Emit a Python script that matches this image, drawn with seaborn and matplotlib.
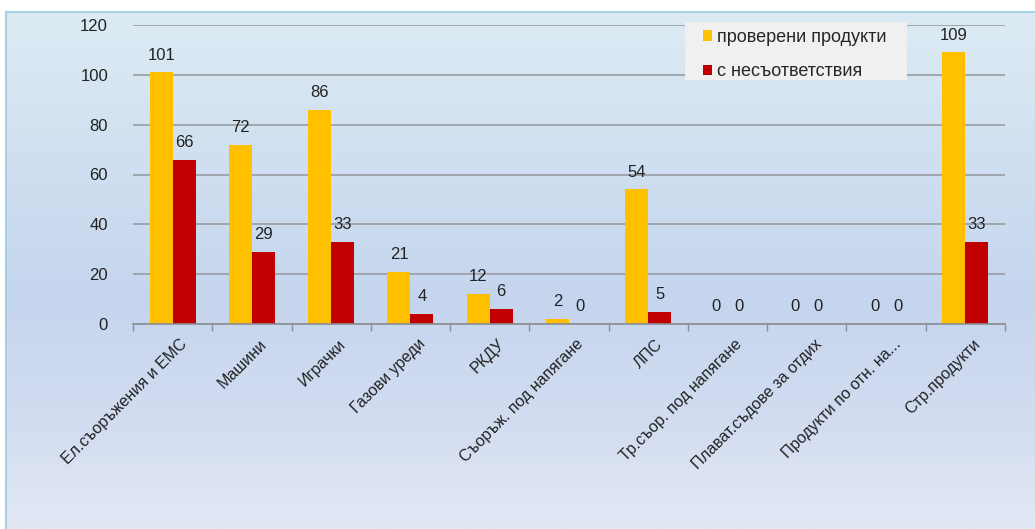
import numpy as np
import pandas as pd
import matplotlib
matplotlib.use("Agg")
import matplotlib.pyplot as plt
import matplotlib.transforms as mtransforms
from matplotlib.patches import Rectangle
from matplotlib.colors import LinearSegmentedColormap
import seaborn as sns

categories = ["Ел.съоръжения и ЕМС", "Машини", "Играчки", "Газови уреди", "РКДУ",
              "Съоръж. под напягане", "ЛПС", "Тр.съор. под напягане",
              "Плават.съдове за отдих", "Продукти по отн. на...", "Стр.продукти"]
checked = [101, 72, 86, 21, 12, 2, 54, 0, 0, 0, 109]
nonconf = [66, 29, 33, 4, 6, 0, 5, 0, 0, 0, 33]
series_names = ["проверени продукти", "с несъответствия"]
yticks = [0, 20, 40, 60, 80, 100, 120]

df = pd.DataFrame({
    "cat": categories * 2,
    "val": checked + nonconf,
    "series": [series_names[0]] * len(categories) + [series_names[1]] * len(categories),
})

sns.set_theme(style="white")
plt.rcParams["font.family"] = ["Liberation Sans", "DejaVu Sans"]

W, H = 1035, 529
FS = 12
fig = plt.figure(figsize=(W / 100, H / 100), dpi=100)
fig.patch.set_facecolor("white")

# background gradient panel
bg = fig.add_axes([6 / W, 0, 1 - 6 / W, (H - 12) / H])
cmap = LinearSegmentedColormap.from_list(
    "bg", [(0.0, "#dcebf3"), (0.55, "#c5d5ee"), (0.8, "#d3ddf1"), (1.0, "#e2e8f4")])
grad = np.linspace(0, 1, 256).reshape(-1, 1)
bg.imshow(grad, aspect="auto", cmap=cmap, extent=[0, 1, 0, 1], origin="upper")
bg.set_xlim(0, 1); bg.set_ylim(0, 1)
bg.set_xticks([]); bg.set_yticks([])
for s in ["top", "left"]:
    bg.spines[s].set_color("#a6d3e4")
    bg.spines[s].set_linewidth(1.5)
for s in ["bottom", "right"]:
    bg.spines[s].set_visible(False)

ax = fig.add_axes([133 / W, (H - 324) / H, (1005 - 133) / W, (324 - 25) / H])
ax.patch.set_alpha(0)
sns.barplot(data=df, x="cat", y="val", hue="series",
            palette=["#ffc000", "#c00000"], width=0.58, saturation=1,
            linewidth=0, edgecolor="none", ax=ax, legend=True)

ax.set_ylim(0, 120)
ax.set_yticks(yticks)
ax.set_yticklabels([str(v) for v in yticks], fontsize=FS, color="#222222")
ax.yaxis.grid(True, color="#999ca2", linewidth=1.2)
ax.set_axisbelow(True)
ax.set_xlabel(""); ax.set_ylabel("")
for s in ["top", "right", "left"]:
    ax.spines[s].set_visible(False)
ax.spines["bottom"].set_color("#8a8e94")
ax.spines["bottom"].set_linewidth(1.2)
ax.tick_params(axis="y", length=0, pad=18)

# category tick labels
ax.set_xticks(range(len(categories)))
ax.set_xticklabels(categories, rotation=45, ha="right", rotation_mode="anchor",
                   fontsize=11.5, color="#222222")
ax.tick_params(axis="x", length=0, pad=9)
offset = mtransforms.ScaledTranslation(7 / 100, 0, fig.dpi_scale_trans)
for lab in ax.get_xticklabels():
    lab.set_transform(lab.get_transform() + offset)
# minor ticks at category boundaries
ax.set_xticks(np.arange(-0.5, len(categories), 1.0), minor=True)
ax.tick_params(axis="x", which="minor", length=5, color="#8a8e94", direction="out", bottom=True)
ax.set_xlim(-0.5, len(categories) - 0.5)

for cont in ax.containers:
    ax.bar_label(cont, labels=[str(int(v)) for v in cont.datavalues],
                 padding=7, fontsize=FS, color="#222222")

# legend box
ax.add_patch(Rectangle((685 / W, (H - 80) / H), (907 - 685) / W, 58 / H,
                       transform=fig.transFigure, facecolor="#f0f0f0",
                       edgecolor="none", zorder=5, clip_on=False))
leg = ax.legend(loc="upper left", bbox_to_anchor=(703 / W, (H - 29) / H),
                bbox_transform=fig.transFigure, frameon=False, fontsize=13,
                handlelength=0.5, handleheight=0.5, handletextpad=0.25,
                labelspacing=0.95, borderpad=0, borderaxespad=0)
leg.set_zorder(10)

fig.savefig("out.png", dpi=100)
